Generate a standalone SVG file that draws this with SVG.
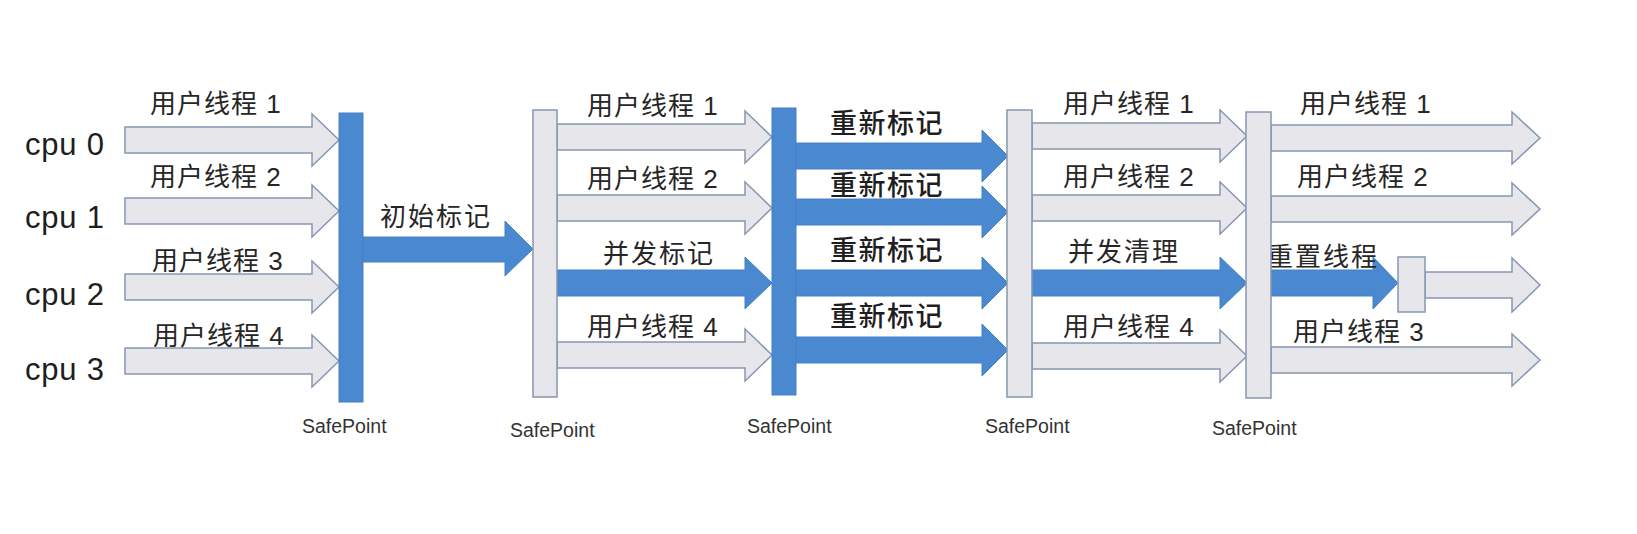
<svg xmlns="http://www.w3.org/2000/svg" width="1637" height="534" viewBox="0 0 1637 534">
<style>
.bg{fill:#ffffff}
.ga{fill:#e7e7eb;stroke:#8597b3;stroke-width:1.5;stroke-linejoin:miter}
.ba{fill:#4a88cf;stroke:#4580c4;stroke-width:1}
.gbar{fill:#e7e7eb;stroke:#8597b3;stroke-width:1.5}
.bbar{fill:#4a88cf;stroke:#4580c4;stroke-width:1}
.lbl{font-family:"Liberation Sans","Noto Sans CJK SC",sans-serif;font-size:26px;fill:#262626;letter-spacing:1px}
.lbl4{font-family:"Noto Sans CJK SC",sans-serif;font-size:26px;fill:#262626;letter-spacing:2px}
.lblb{font-family:"Noto Sans CJK SC",sans-serif;font-size:27px;font-weight:500;fill:#1e1e1e;letter-spacing:1.5px}
.cpu{font-family:"Liberation Sans",sans-serif;font-size:31px;fill:#1e1e1e;letter-spacing:0.8px}
.sp{font-family:"Liberation Sans",sans-serif;font-size:19.5px;fill:#333333}
</style>
<rect class="bg" x="0" y="0" width="1637" height="534"/>

<g id="connectors">
  <!-- column 1: cpu -> SafePoint 1 -->
  <path class="ga" d="M125,127 H312 V114 L339,140 L312,166 V153 H125 Z"/>
  <path class="ga" d="M125,198 H312 V185 L339,211 L312,237 V224 H125 Z"/>
  <path class="ga" d="M125,274 H312 V261 L339,287 L312,313 V300 H125 Z"/>
  <path class="ga" d="M125,348 H312 V335 L339,361 L312,387 V374 H125 Z"/>
  <!-- initial mark -->
  <path class="ba" d="M363,237 H505 V221 L533,249 L505,276 V262 H363 Z"/>
  <!-- column 2 -->
  <path class="ga" d="M557,124 H745 V111 L772,137 L745,163 V150 H557 Z"/>
  <path class="ga" d="M557,195 H745 V182 L772,208 L745,234 V221 H557 Z"/>
  <path class="ba" d="M557,270 H745 V257 L772,283 L745,309 V296 H557 Z"/>
  <path class="ga" d="M557,342 H745 V329 L772,355 L745,381 V368 H557 Z"/>
  <!-- column 3: remark -->
  <path class="ba" d="M796,143 H982 V130 L1008,156 L982,182 V169 H796 Z"/>
  <path class="ba" d="M796,199 H982 V186 L1008,212 L982,238 V225 H796 Z"/>
  <path class="ba" d="M796,270 H982 V257 L1008,283 L982,309 V296 H796 Z"/>
  <path class="ba" d="M796,337 H982 V324 L1008,350 L982,376 V363 H796 Z"/>
  <!-- column 4 -->
  <path class="ga" d="M1032,123 H1220 V110 L1247,136 L1220,162 V149 H1032 Z"/>
  <path class="ga" d="M1032,195 H1220 V182 L1247,208 L1220,234 V221 H1032 Z"/>
  <path class="ba" d="M1032,270 H1220 V257 L1247,283 L1220,309 V296 H1032 Z"/>
  <path class="ga" d="M1032,343 H1220 V330 L1247,356 L1220,382 V369 H1032 Z"/>
  <!-- column 5 -->
  <path class="ga" d="M1271,125 H1512 V112 L1540,138 L1512,164 V151 H1271 Z"/>
  <path class="ga" d="M1271,196 H1512 V183 L1540,209 L1512,235 V222 H1271 Z"/>
  <path class="ba" d="M1271,270 H1373 V257 L1398,283 L1373,309 V296 H1271 Z"/>
  <path class="ga" d="M1425,272 H1512 V258 L1540,285 L1512,312 V298 H1425 Z"/>
  <path class="ga" d="M1271,347 H1512 V334 L1540,360 L1512,386 V373 H1271 Z"/>

  <!-- connector labels -->
  <text class="lbl" x="150" y="113">用户线程 1</text>
  <text class="lbl" x="150" y="186">用户线程 2</text>
  <text class="lbl" x="152" y="270">用户线程 3</text>
  <text class="lbl" x="153" y="345">用户线程 4</text>
  <text class="lbl4" x="380" y="226">初始标记</text>
  <text class="lbl" x="587" y="115">用户线程 1</text>
  <text class="lbl" x="587" y="188">用户线程 2</text>
  <text class="lbl4" x="603" y="263">并发标记</text>
  <text class="lbl" x="587" y="336">用户线程 4</text>
  <text class="lblb" x="830" y="133">重新标记</text>
  <text class="lblb" x="830" y="195">重新标记</text>
  <text class="lblb" x="830" y="260">重新标记</text>
  <text class="lblb" x="830" y="326">重新标记</text>
  <text class="lbl" x="1063" y="113">用户线程 1</text>
  <text class="lbl" x="1063" y="186">用户线程 2</text>
  <text class="lbl4" x="1068" y="261">并发清理</text>
  <text class="lbl" x="1063" y="336">用户线程 4</text>
  <text class="lbl" x="1300" y="113">用户线程 1</text>
  <text class="lbl" x="1297" y="186">用户线程 2</text>
  <text class="lbl4" x="1267" y="266">重置线程</text>
  <text class="lbl" x="1293" y="341">用户线程 3</text>
</g>

<g id="cpu0"><text class="cpu" x="25" y="155">cpu 0</text></g>
<g id="cpu1"><text class="cpu" x="25" y="228">cpu 1</text></g>
<g id="cpu2"><text class="cpu" x="25" y="305">cpu 2</text></g>
<g id="cpu3"><text class="cpu" x="25" y="380">cpu 3</text></g>

<g id="safepoint1">
  <rect class="bbar" x="339" y="113" width="24" height="289"/>
  <text class="sp" x="302" y="433">SafePoint</text>
</g>
<g id="safepoint2">
  <rect class="gbar" x="533" y="110" width="24" height="287"/>
  <text class="sp" x="510" y="437">SafePoint</text>
</g>
<g id="safepoint3">
  <rect class="bbar" x="772" y="108" width="24" height="287"/>
  <text class="sp" x="747" y="433">SafePoint</text>
</g>
<g id="safepoint4">
  <rect class="gbar" x="1007" y="110" width="25" height="287"/>
  <text class="sp" x="985" y="433">SafePoint</text>
</g>
<g id="safepoint5">
  <rect class="gbar" x="1246" y="112" width="25" height="286"/>
  <text class="sp" x="1212" y="435">SafePoint</text>
</g>
<g id="reset-point">
  <rect class="gbar" x="1398" y="257" width="27" height="55"/>
</g>
</svg>
